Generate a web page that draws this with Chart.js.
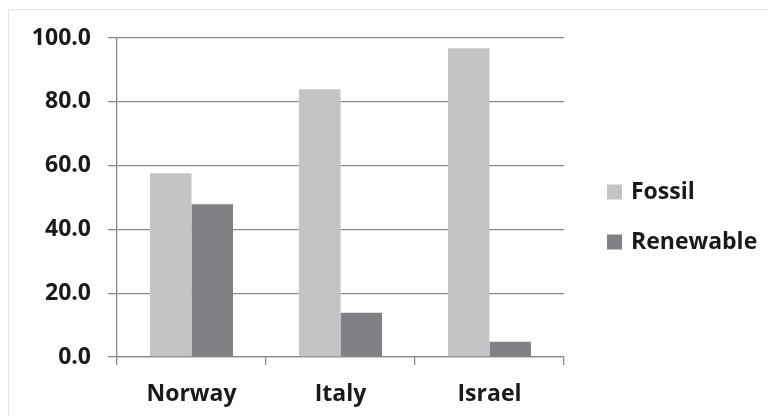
<!DOCTYPE html>
<html>
<head>
<meta charset="utf-8">
<script src="https://cdn.jsdelivr.net/npm/chart.js@4.4.0/dist/chart.umd.min.js"></script>
<style>
  html, body { margin: 0; padding: 0; background: #fff; }
</style>
</head>
<body>
<canvas id="chart" width="768" height="416"></canvas>
<script>
const countries = ['Norway', 'Italy', 'Israel'];
const fossil = [57.6, 83.9, 96.8];
const renewable = [47.9, 13.9, 4.8];
const yTicks = [0, 20, 40, 60, 80, 100];

const FOSSIL = '#c3c4c6';
const RENEW = '#808184';
const GRID = '#8a8a8a';
const TEXT = '#1a1a1a';

Chart.defaults.font.family = "'Open Sans', sans-serif";
Chart.defaults.font.size = 23;
Chart.defaults.font.weight = 'bold';
Chart.defaults.color = TEXT;

// light frame around the whole chart
const framePlugin = {
  id: 'frame',
  beforeDraw(chart) {
    const ctx = chart.ctx;
    ctx.save();
    ctx.fillStyle = '#fff';
    ctx.fillRect(0, 0, chart.width, chart.height);
    ctx.strokeStyle = '#e4e4e4';
    ctx.lineWidth = 1;
    ctx.strokeRect(8.5, 9.5, chart.width + 20, chart.height + 20);
    ctx.restore();
  }
};

// legend drawn on the right, one row per dataset
const sideLegend = {
  id: 'sideLegend',
  afterDraw(chart) {
    const ctx = chart.ctx;
    const rows = [192, 242];
    ctx.save();
    ctx.font = "bold 23px 'Open Sans', sans-serif";
    ctx.textBaseline = 'middle';
    ctx.textAlign = 'left';
    chart.data.datasets.forEach((ds, i) => {
      const y = rows[i];
      ctx.fillStyle = ds.backgroundColor;
      ctx.fillRect(607, y - 7.5, 15, 15);
      ctx.fillStyle = TEXT;
      ctx.fillText(ds.label, 631, y);
    });
    ctx.restore();
  }
};

new Chart(document.getElementById('chart'), {
  type: 'bar',
  data: {
    labels: countries,
    datasets: [{
      label: 'Fossil',
      data: fossil,
      backgroundColor: FOSSIL,
      borderWidth: 0,
    }, {
      label: 'Renewable',
      data: renewable,
      backgroundColor: RENEW,
      borderWidth: 0,
    }]
  },
  options: {
    responsive: false,
    animation: false,
    categoryPercentage: 0.557,
    barPercentage: 1,
    layout: { padding: { left: 0, right: 204, top: 38, bottom: 0 } },
    plugins: {
      legend: { display: false },
      tooltip: { enabled: false }
    },
    scales: {
      x: {
        grid: {
          offset: true,
          drawOnChartArea: false,
          color: GRID,
          lineWidth: 1.3,
          tickLength: 8,
        },
        border: { color: GRID, width: 1.3 },
        ticks: { padding: 16, color: TEXT },
        afterFit(axis) { axis.height = 59; }
      },
      y: {
        min: 0,
        max: 100,
        afterBuildTicks(axis) { axis.ticks = yTicks.map(v => ({ value: v })); },
        grid: { color: GRID, lineWidth: 1.3, tickLength: 9 },
        border: { color: GRID, width: 1.3 },
        ticks: {
          padding: 17,
          color: TEXT,
          callback: v => v.toFixed(1)
        },
        afterFit(axis) { axis.width = 117; }
      }
    }
  },
  plugins: [framePlugin, sideLegend]
});
</script>
</body>
</html>
